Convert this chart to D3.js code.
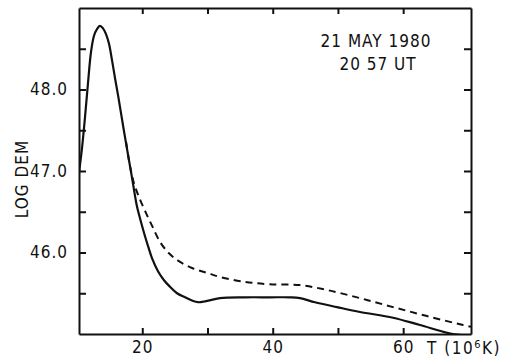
<!DOCTYPE html>
<html>
<head>
<meta charset="utf-8">
<script src="https://cdn.jsdelivr.net/npm/d3@7"></script>
<style>
  body { margin: 0; background: #fff; }
  text { font-family: "DejaVu Sans Condensed", "DejaVu Sans", sans-serif; fill: #111; letter-spacing: 1px; }
</style>
</head>
<body>
<div id="chart"></div>
<script>
// temperature (10^6 K) and log DEM
const solidT = [10.30, 10.76, 11.22, 11.68, 12.14, 12.60, 13.06, 13.52, 13.98, 14.44, 14.90, 15.36, 15.82, 16.33, 17.09, 17.86, 18.38, 19.15, 19.65, 20.42, 20.96, 21.49, 22.41, 23.33, 24.25, 25.33, 26.55, 27.63, 28.55, 29.62, 31.92, 35.75, 39.59, 42.65, 44.18, 46.48, 49.85, 53.38, 58.44, 62.58, 67.64, 70.4];
const solidV = [46.98, 47.28, 47.66, 48.08, 48.46, 48.66, 48.74, 48.78, 48.75, 48.68, 48.56, 48.36, 48.14, 47.91, 47.54, 47.18, 46.94, 46.58, 46.42, 46.20, 46.06, 45.93, 45.77, 45.66, 45.58, 45.50, 45.45, 45.41, 45.39, 45.40, 45.44, 45.45, 45.45, 45.45, 45.44, 45.39, 45.33, 45.27, 45.20, 45.11, 45.00, 44.98];
const dashT = [17.51, 18.12, 18.73, 19.35, 20.42, 21.49, 22.72, 24.10, 25.48, 27.63, 29.93, 31.92, 35.75, 39.59, 44.18, 48.33, 53.38, 58.44, 63.66, 69.18, 70.40];
const dashV = [47.36, 47.06, 46.85, 46.71, 46.51, 46.33, 46.13, 45.99, 45.90, 45.81, 45.75, 45.70, 45.64, 45.61, 45.60, 45.54, 45.44, 45.33, 45.22, 45.11, 45.09];
const xTicks = [20, 30, 40, 50, 60];
const xLabels = [20, 40, 60];
const yTicks = [45.5, 46.0, 46.5, 47.0, 47.5, 48.0, 48.5];
const yLabels = [46.0, 47.0, 48.0];

const W = 506, H = 361;
const M = {top: 8, right: 35, bottom: 27, left: 79};

const x = d3.scaleLinear().domain([10.3, 70.4]).range([M.left, W - M.right]);
const y = d3.scaleLinear().domain([45, 49]).range([H - M.bottom, M.top]);

const svg = d3.select('#chart').append('svg')
    .attr('width', W)
    .attr('height', H);

// frame with inward ticks on all four sides
svg.append('g')
    .attr('transform', `translate(0,${H - M.bottom})`)
    .call(d3.axisBottom(x).tickValues(xTicks).tickSizeInner(-6).tickSizeOuter(0).tickPadding(7)
        .tickFormat(d => xLabels.includes(d) ? d : ''));
svg.append('g')
    .attr('transform', `translate(0,${M.top})`)
    .call(d3.axisTop(x).tickValues(xTicks).tickSizeInner(-6).tickSizeOuter(0).tickFormat(''));
svg.append('g')
    .attr('transform', `translate(${M.left},0)`)
    .call(d3.axisLeft(y).tickValues(yTicks).tickSizeInner(-7).tickSizeOuter(0).tickPadding(11)
        .tickFormat(d => yLabels.includes(d) ? d3.format('.1f')(d) : ''));
svg.append('g')
    .attr('transform', `translate(${W - M.right},0)`)
    .call(d3.axisRight(y).tickValues(yTicks).tickSizeInner(-7).tickSizeOuter(0).tickFormat(''));

svg.selectAll('.domain').attr('stroke', '#111').attr('stroke-width', 2);
svg.selectAll('.tick line').attr('stroke', '#111').attr('stroke-width', 2);
svg.selectAll('.tick text')
    .attr('font-size', 17)
    .attr('font-family', '"DejaVu Sans Condensed", "DejaVu Sans", sans-serif')
    .attr('fill', '#111');

const line = d3.line()
    .x(d => x(d[0]))
    .y(d => y(d[1]))
    .curve(d3.curveCatmullRom.alpha(0.5));

svg.append('clipPath').attr('id', 'plot')
    .append('rect')
    .attr('x', M.left).attr('y', M.top)
    .attr('width', W - M.left - M.right).attr('height', H - M.top - M.bottom);

svg.append('path')
    .datum(solidT.map((t, i) => [t, solidV[i]]))
    .attr('clip-path', 'url(#plot)')
    .attr('fill', 'none')
    .attr('stroke', '#111')
    .attr('stroke-width', 2.2)
    .attr('d', line);

// dashed run starts on top of the solid one, where they still coincide
svg.append('path')
    .datum(dashT.map((t, i) => [t, dashV[i]]))
    .attr('clip-path', 'url(#plot)')
    .attr('fill', 'none')
    .attr('stroke', '#111')
    .attr('stroke-width', 2)
    .attr('stroke-dasharray', '7,5')
    .attr('d', line);

// axis titles
svg.append('text')
    .attr('transform', 'translate(28,179) rotate(-90)')
    .attr('text-anchor', 'middle')
    .attr('font-size', 17)
    .text('LOG DEM');

const tLab = svg.append('text')
    .attr('x', 427)
    .attr('y', 354)
    .attr('font-size', 17)
    .style('letter-spacing', '1.5px')
    .text('T (10');
tLab.append('tspan').attr('dy', -6).attr('font-size', 11).text('6');
tLab.append('tspan').attr('dy', 6).text('K)');

// date annotation
svg.append('text')
    .attr('x', 376).attr('y', 47)
    .attr('text-anchor', 'middle')
    .attr('font-size', 17)
    .text('21 MAY 1980');
svg.append('text')
    .attr('x', 378).attr('y', 70)
    .attr('text-anchor', 'middle')
    .attr('font-size', 17)
    .text('20 57 UT');
</script>
</body>
</html>
